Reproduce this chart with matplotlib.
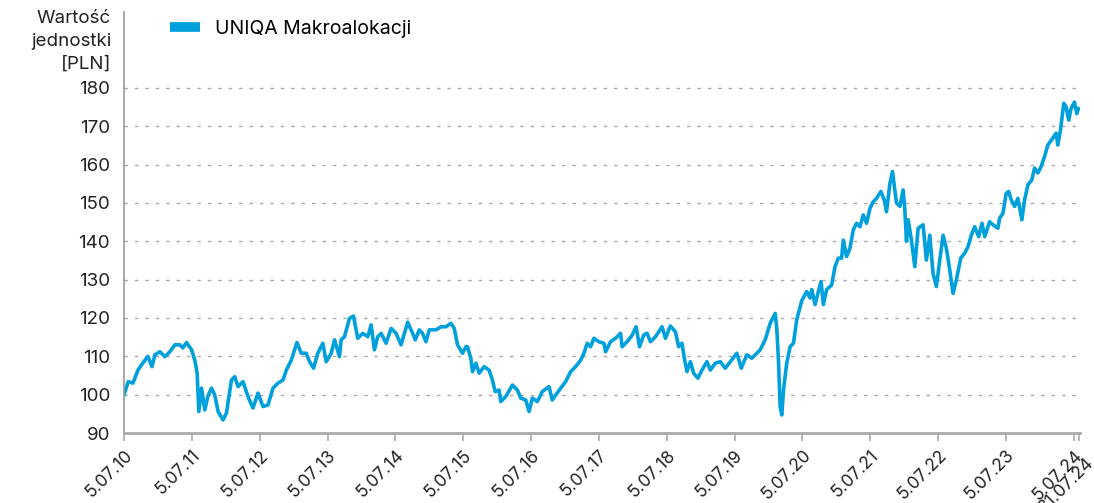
import matplotlib
matplotlib.use("Agg")
import matplotlib.pyplot as plt
from matplotlib.lines import Line2D

# Decimal-year dates and unit values
dates = [
    2010.508, 2010.571, 2010.640, 2010.714, 2010.787, 2010.861, 2010.920, 2010.964,
    2011.037, 2011.111, 2011.184, 2011.258, 2011.332, 2011.376, 2011.430, 2011.504,
    2011.552, 2011.586, 2011.611, 2011.651, 2011.699, 2011.743, 2011.798, 2011.846,
    2011.895, 2011.968, 2012.018, 2012.092, 2012.140, 2012.189, 2012.262, 2012.336,
    2012.409, 2012.483, 2012.557, 2012.630, 2012.704, 2012.777, 2012.851, 2012.901,
    2012.974, 2013.057, 2013.121, 2013.195, 2013.243, 2013.302, 2013.365, 2013.439,
    2013.489, 2013.562, 2013.611, 2013.684, 2013.709, 2013.758, 2013.832, 2013.890,
    2013.954, 2014.027, 2014.101, 2014.151, 2014.199, 2014.248, 2014.298, 2014.371,
    2014.445, 2014.518, 2014.592, 2014.689, 2014.762, 2014.802, 2014.861, 2014.909,
    2014.959, 2015.008, 2015.107, 2015.180, 2015.254, 2015.327, 2015.376, 2015.424,
    2015.498, 2015.548, 2015.571, 2015.621, 2015.645, 2015.695, 2015.743, 2015.817,
    2015.890, 2015.939, 2015.979, 2016.037, 2016.062, 2016.136, 2016.233, 2016.307,
    2016.357, 2016.430, 2016.479, 2016.527, 2016.601, 2016.674, 2016.773, 2016.821,
    2016.871, 2016.945, 2017.018, 2017.092, 2017.165, 2017.239, 2017.287, 2017.336,
    2017.386, 2017.434, 2017.508, 2017.582, 2017.607, 2017.680, 2017.754, 2017.827,
    2017.851, 2017.924, 2017.998, 2018.057, 2018.107, 2018.170, 2018.218, 2018.268,
    2018.342, 2018.390, 2018.439, 2018.489, 2018.562, 2018.636, 2018.684, 2018.733,
    2018.773, 2018.807, 2018.857, 2018.905, 2018.968, 2019.027, 2019.101, 2019.151,
    2019.224, 2019.298, 2019.371, 2019.445, 2019.542, 2019.607, 2019.689, 2019.762,
    2019.836, 2019.886, 2019.959, 2020.033, 2020.107, 2020.130, 2020.155, 2020.180,
    2020.204, 2020.229, 2020.277, 2020.327, 2020.376, 2020.424, 2020.498, 2020.571,
    2020.621, 2020.645, 2020.695, 2020.743, 2020.783, 2020.817, 2020.865, 2020.939,
    2020.989, 2021.037, 2021.086, 2021.111, 2021.159, 2021.209, 2021.258, 2021.307,
    2021.357, 2021.405, 2021.454, 2021.504, 2021.552, 2021.601, 2021.665, 2021.714,
    2021.748, 2021.798, 2021.836, 2021.895, 2021.945, 2021.993, 2022.018, 2022.042,
    2022.067, 2022.115, 2022.165, 2022.214, 2022.287, 2022.336, 2022.386, 2022.434,
    2022.483, 2022.533, 2022.582, 2022.630, 2022.680, 2022.729, 2022.777, 2022.842,
    2022.901, 2022.949, 2022.998, 2023.048, 2023.107, 2023.155, 2023.195, 2023.268,
    2023.317, 2023.390, 2023.415, 2023.464, 2023.512, 2023.548, 2023.586, 2023.636,
    2023.684, 2023.743, 2023.783, 2023.832, 2023.890, 2023.930, 2023.979, 2024.027,
    2024.077, 2024.126, 2024.199, 2024.248, 2024.273, 2024.312, 2024.361, 2024.395,
    2024.434, 2024.468, 2024.518, 2024.552, 2024.577,
]
values = [
    100.0, 103.4, 103.0, 106.4, 108.3, 110.0, 107.3, 110.4,
    111.2, 109.9, 111.2, 113.0, 113.0, 112.2, 113.6, 111.7,
    109.0, 105.6, 95.6, 101.7, 96.0, 99.5, 101.7, 99.9,
    95.6, 93.4, 95.2, 103.8, 104.7, 102.1, 103.4, 99.5,
    96.5, 100.4, 96.9, 97.3, 101.7, 103.0, 103.8, 106.4,
    109.0, 113.6, 110.8, 110.8, 108.6, 106.9, 110.8, 113.4,
    108.6, 110.8, 114.3, 109.9, 114.3, 115.1, 119.9, 120.5,
    114.7, 116.0, 115.1, 118.2, 111.7, 115.1, 116.0, 113.4,
    117.3, 116.0, 113.0, 118.9, 116.0, 114.3, 116.9, 116.0,
    113.8, 116.9, 116.9, 117.7, 117.7, 118.6, 117.3, 113.0,
    110.8, 112.5, 112.5, 109.5, 106.0, 108.2, 105.6, 107.3,
    106.4, 103.8, 100.8, 101.2, 98.2, 99.5, 102.5, 101.2,
    99.1, 98.6, 95.6, 99.1, 98.2, 100.8, 102.1, 98.6,
    99.9, 101.7, 103.4, 106.0, 107.3, 109.0, 110.8, 113.4,
    112.5, 114.7, 113.8, 113.4, 111.2, 113.8, 114.7, 116.0,
    112.5, 113.8, 115.5, 117.7, 112.5, 115.6, 116.0, 113.8,
    115.1, 116.4, 117.7, 114.7, 117.9, 116.4, 112.5, 113.4,
    109.0, 106.0, 108.6, 105.6, 104.3, 106.4, 108.6, 106.4,
    108.2, 108.6, 106.9, 108.6, 110.8, 106.9, 110.4, 109.5,
    110.8, 111.7, 114.3, 118.6, 121.2, 117.3, 109.0, 96.9,
    94.7, 101.2, 108.2, 112.5, 113.4, 119.5, 124.5, 126.9,
    125.2, 127.4, 123.5, 126.9, 129.5, 123.5, 127.4, 128.6,
    133.4, 135.6, 135.6, 140.3, 136.0, 138.2, 143.0, 144.7,
    143.8, 146.9, 144.7, 148.6, 150.3, 151.2, 153.0, 150.8,
    147.7, 155.1, 158.2, 150.0, 149.1, 153.4, 148.2, 140.0,
    145.6, 140.3, 133.4, 143.4, 144.3, 135.1, 141.6, 131.6,
    128.2, 135.1, 141.6, 138.2, 132.5, 126.4, 129.9, 135.6,
    136.9, 138.6, 141.6, 143.8, 141.2, 144.7, 141.2, 145.1,
    144.3, 143.4, 146.0, 147.3, 152.5, 153.0, 150.8, 149.1,
    151.2, 145.6, 150.8, 154.7, 156.0, 159.1, 157.8, 159.5,
    162.1, 165.1, 166.9, 168.2, 165.1, 169.0, 176.0, 175.1,
    171.6, 174.6, 176.3, 173.3, 174.6,
]

tick_positions = [2010.508 + i for i in range(15)] + [2024.579]
tick_labels = ["5.07.10", "5.07.11", "5.07.12", "5.07.13", "5.07.14", "5.07.15",
               "5.07.16", "5.07.17", "5.07.18", "5.07.19", "5.07.20", "5.07.21",
               "5.07.22", "5.07.23", "5.07.24", "31.07.24"]
y_ticks = [90, 100, 110, 120, 130, 140, 150, 160, 170, 180]
series_name = "UNIQA Makroalokacji"
line_color = "#00A0DC"

plt.rcParams['font.family'] = ['Inter', 'DejaVu Sans']

fig = plt.figure(figsize=(10.94, 5.03), dpi=100)
ax = fig.add_axes([124/1094, 70/503, (1080-124)/1094, (433-12)/503])

ax.plot(dates, values, color=line_color, lw=2.6, solid_joinstyle='round')

ax.set_xlim(2010.508, 2024.60)
ax.set_ylim(90, 199.8)
ax.set_yticks(y_ticks)
ax.set_yticklabels([str(v) for v in y_ticks], fontsize=13.5, color='#222222')
ax.set_xticks(tick_positions)
# last label drawn separately with a small offset (as in the reference)
ax.set_xticklabels(tick_labels[:-1] + [""], rotation=45, ha='right', va='top',
                   rotation_mode='anchor', fontsize=12.5, color='#222222')
ax.annotate(tick_labels[-1], xy=(tick_positions[-1], 0),
            xycoords=('data', 'axes fraction'),
            xytext=(5, -15), textcoords='offset points',
            rotation=45, ha='right', va='top', rotation_mode='anchor',
            fontsize=12.5, color='#222222', annotation_clip=False)

for v in y_ticks[1:]:
    ax.axhline(v, color='#aaaaaa', lw=1.0, linestyle=(0, (2.5, 5)), zorder=0)

for s in ['top', 'right']:
    ax.spines[s].set_visible(False)
ax.spines['left'].set_color('#999999')
ax.spines['left'].set_linewidth(1.2)
ax.spines['bottom'].set_color('#aaaaaa')
ax.spines['bottom'].set_linewidth(2)
ax.tick_params(axis='y', length=0, pad=10)
ax.tick_params(axis='x', length=6, width=1.2, color='#aaaaaa', pad=4)

fig.text(111/1094, 1 - 10/503, "Wartość\njednostki\n[PLN]", ha='right', va='top',
         fontsize=13.5, color='#222222', linespacing=1.45)

handle = Line2D([], [], color=line_color, lw=7, solid_capstyle='butt')
fig.legend([handle], [series_name], loc='upper left',
           bbox_to_anchor=(152/1094, 1 - 2/503), frameon=False, fontsize=14,
           handlelength=1.55, handletextpad=0.8)

fig.savefig("out.png", dpi=100)
